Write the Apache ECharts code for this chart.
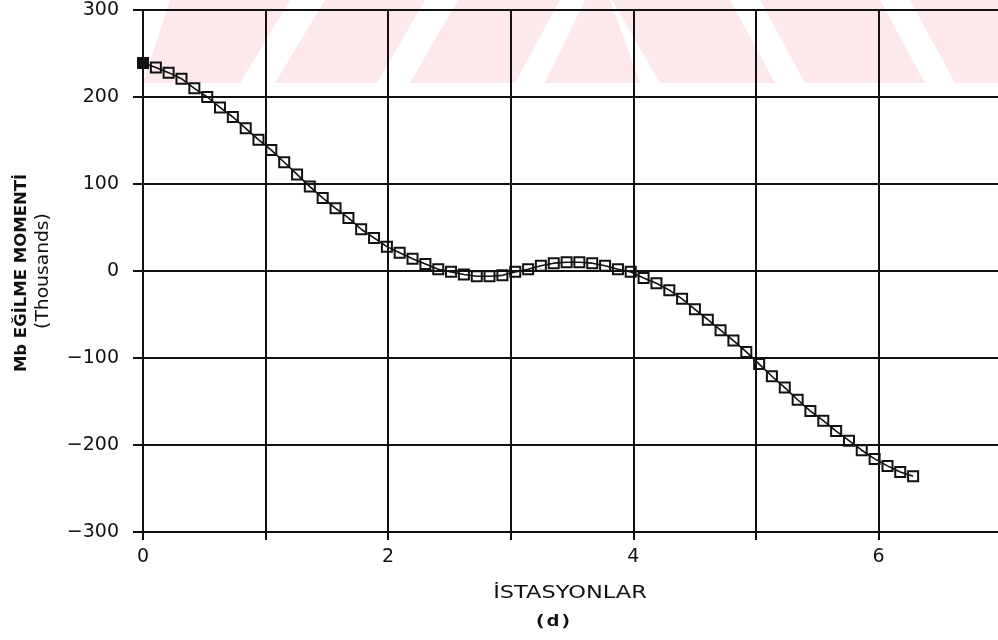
<!DOCTYPE html>
<html>
<head>
<meta charset="utf-8">
<script src="https://cdn.jsdelivr.net/npm/echarts@6/dist/echarts.min.js"></script>
<style>
  html, body { margin: 0; padding: 0; background: #ffffff; }
  #chart { width: 998px; height: 640px; }
</style>
</head>
<body>
<div id="chart"></div>
<script>
// Station positions along the beam
var stations = [
  0.000, 0.105, 0.209, 0.314, 0.419, 0.524, 0.628, 0.733, 0.838, 0.942,
  1.047, 1.152, 1.257, 1.361, 1.466, 1.571, 1.676, 1.780, 1.885, 1.990,
  2.094, 2.199, 2.304, 2.409, 2.513, 2.618, 2.723, 2.827, 2.932, 3.037,
  3.142, 3.246, 3.351, 3.456, 3.560, 3.665, 3.770, 3.875, 3.979, 4.084,
  4.189, 4.294, 4.398, 4.503, 4.608, 4.712, 4.817, 4.922, 5.027, 5.131,
  5.236, 5.341, 5.445, 5.550, 5.655, 5.760, 5.864, 5.969, 6.074, 6.178,
  6.283
];

// Bending moment Mb at each station (thousands)
var moment = [
  239, 234, 228, 221, 210, 200, 188, 177, 164, 151,
  139, 125, 111, 97, 84, 72, 61, 48, 38, 28,
  21, 14, 8, 2, -1, -4, -6, -6, -5, -1,
  2, 6, 9, 10, 10, 9, 6, 2, -1, -8,
  -14, -22, -32, -44, -56, -68, -80, -93, -107, -121,
  -134, -148, -161, -172, -184, -195, -206, -216, -224, -231,
  -236
];

// Axis ranges and labels
var xRange = [0, 7];
var yRange = [-300, 300];
var yAxisTitle = 'Mb EĞİLME MOMENTİ';
var yAxisUnit = '(Thousands)';
var xAxisTitle = 'İSTASYONLAR';
var panelTag = '(d)';

var FONT = '"DejaVu Sans", sans-serif';
var INK = '#111111';

var seriesData = stations.map(function (x, i) {
  var item = { value: [x, moment[i]] };
  if (i === 0) {
    item.itemStyle = { color: INK };
  }
  return item;
});

var chart = echarts.init(document.getElementById('chart'), null, { renderer: 'canvas' });

// Light pink band with diagonal stripes behind the plot top
var pink = '#fde8eb';
function band(pts) {
  return {
    type: 'polygon', z: -100, silent: true,
    shape: { points: pts },
    style: { fill: pink }
  };
}

// Text drawn with a horizontal stretch (wide lettering)
function label(txt, x, y, font, stretch, rot) {
  return {
    type: 'text', x: x, y: y, rotation: rot || 0, scaleX: stretch, z: 10,
    style: {
      text: txt, fill: INK, font: font,
      textAlign: 'center', textVerticalAlign: 'middle'
    }
  };
}

chart.setOption({
  animation: false,
  backgroundColor: '#ffffff',
  grid: {
    left: 143, width: 858, top: 10, bottom: 108,
    containLabel: false, outerBoundsMode: 'none'
  },
  xAxis: {
    type: 'value',
    min: xRange[0], max: xRange[1], interval: 1,
    axisLine: { show: true, onZero: false, lineStyle: { color: INK, width: 2 } },
    axisTick: { show: true, length: 8, lineStyle: { color: INK, width: 2 } },
    axisLabel: {
      color: INK, fontFamily: FONT, fontSize: 19, margin: 16,
      formatter: function (v) { return v % 2 === 0 ? String(v) : ''; }
    },
    splitLine: { show: true, lineStyle: { color: INK, width: 2 } }
  },
  yAxis: {
    type: 'value',
    min: yRange[0], max: yRange[1], interval: 100,
    axisLine: { show: true, onZero: false, lineStyle: { color: INK, width: 2 } },
    axisTick: { show: true, length: 10, lineStyle: { color: INK, width: 2 } },
    axisLabel: {
      color: INK, fontFamily: FONT, fontSize: 19, margin: 24,
      formatter: function (v) { return String(v).replace('-', '\u2212'); }
    },
    splitLine: { show: true, lineStyle: { color: INK, width: 2 } }
  },
  series: [{
    type: 'line',
    data: seriesData,
    symbol: 'rect',
    symbolSize: 10,
    showAllSymbol: true,
    lineStyle: { color: INK, width: 1.6 },
    itemStyle: { color: 'rgba(255,255,255,0)', borderColor: INK, borderWidth: 2 },
    z: 5
  }],
  graphic: [
    band([[143, 83], [240, 83], [290, 0], [170, 0]]),
    band([[275, 83], [377, 83], [425, 0], [325, 0]]),
    band([[410, 83], [515, 83], [560, 0], [458, 0]]),
    band([[545, 83], [640, 83], [610, 0], [585, 0]]),
    band([[612, 0], [730, 0], [775, 83], [660, 83]]),
    band([[760, 0], [880, 0], [925, 83], [805, 83]]),
    band([[910, 0], [998, 0], [998, 83], [955, 83]]),
    label(yAxisTitle, 22, 273, 'bold 15px ' + FONT, 1.1, Math.PI / 2),
    label(yAxisUnit, 44, 271, '17px ' + FONT, 1.1, Math.PI / 2),
    label(xAxisTitle, 570, 593, '18px ' + FONT, 1.25),
    label(panelTag, 553, 622, 'bold 16px "DejaVu Sans Mono", monospace', 1.35)
  ]
});
</script>
</body>
</html>
